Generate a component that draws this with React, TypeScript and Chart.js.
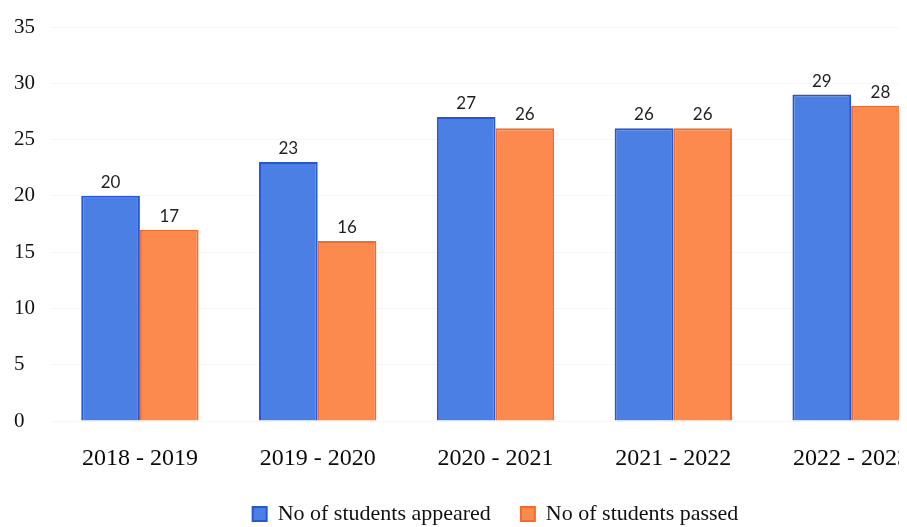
import React, { useEffect, useRef } from "react";
import { Chart, registerables } from "chart.js";

Chart.register(...registerables);

const categories = ["2018 - 2019", "2019 - 2020", "2020 - 2021", "2021 - 2022", "2022 - 2023"];
const appeared = [20, 23, 27, 26, 29];
const passed = [17, 16, 26, 26, 28];
const seriesNames = ["No of students appeared", "No of students passed"];

const valueLabels = {
  id: "valueLabels",
  afterDatasetsDraw(chart: any) {
    const ctx = chart.ctx;
    ctx.save();
    ctx.font = "17px Lato, 'Open Sans', sans-serif";
    ctx.fillStyle = "#1f1f24";
    ctx.textAlign = "center";
    ctx.textBaseline = "bottom";
    chart.data.datasets.forEach((ds: any, i: number) => {
      const meta = chart.getDatasetMeta(i);
      meta.data.forEach((el: any, j: number) => {
        ctx.fillText(String(ds.data[j]), el.x, el.y - 5);
      });
    });
    ctx.restore();
  },
};

export default function App() {
  const ref = useRef<HTMLCanvasElement>(null);
  useEffect(() => {
    document.documentElement.style.overflow = "hidden";
    document.body.style.overflow = "hidden";
    const chart = new Chart(ref.current!, {
      type: "bar",
      data: {
        labels: categories,
        datasets: [
          {
            label: seriesNames[0],
            data: appeared,
            backgroundColor: "#4b7fe3",
            borderColor: "#2456d6",
            borderWidth: 2,
          },
          {
            label: seriesNames[1],
            data: passed,
            backgroundColor: "#fc8a4e",
            borderColor: "#f26b2d",
            borderWidth: 2,
          },
        ],
      },
      options: {
        animation: false,
        responsive: false,
        maintainAspectRatio: false,
        layout: { padding: { left: 6, right: 4, top: 19, bottom: -8 } },
        datasets: { bar: { barPercentage: 1, categoryPercentage: 0.66 } },
        scales: {
          x: {
            grid: { display: false, drawTicks: false },
            border: { display: false },
            ticks: {
              padding: 23,
              color: "#0a0a0a",
              font: { family: "'Liberation Serif', 'DejaVu Serif', serif", size: 24 },
            },
            afterFit: (s: any) => {
              s.height = 52;
            },
          },
          y: {
            min: 0,
            max: 35,
            grid: { color: "rgba(0,0,0,0.035)", drawTicks: false },
            border: { display: false },
            ticks: {
              stepSize: 5,
              crossAlign: "far",
              padding: 0,
              color: "#111",
              font: { family: "'Liberation Serif', 'DejaVu Serif', serif", size: 21 },
            },
            afterFit: (s: any) => {
              s.width = 37;
            },
          },
        },
        plugins: {
          legend: {
            position: "bottom",
            fullSize: false,
            labels: {
              boxWidth: 14,
              boxHeight: 14,
              padding: 30,
              color: "#111",
              font: { family: "'Liberation Serif', 'DejaVu Serif', serif", size: 22 },
            },
          },
          tooltip: { enabled: false },
        },
      },
      plugins: [valueLabels],
    });
    return () => chart.destroy();
  }, []);
  return (
    <div style={{ width: 899, height: 519, overflow: "hidden" }}>
      <canvas ref={ref} width={936} height={519} style={{ display: "block" }} />
    </div>
  );
}
